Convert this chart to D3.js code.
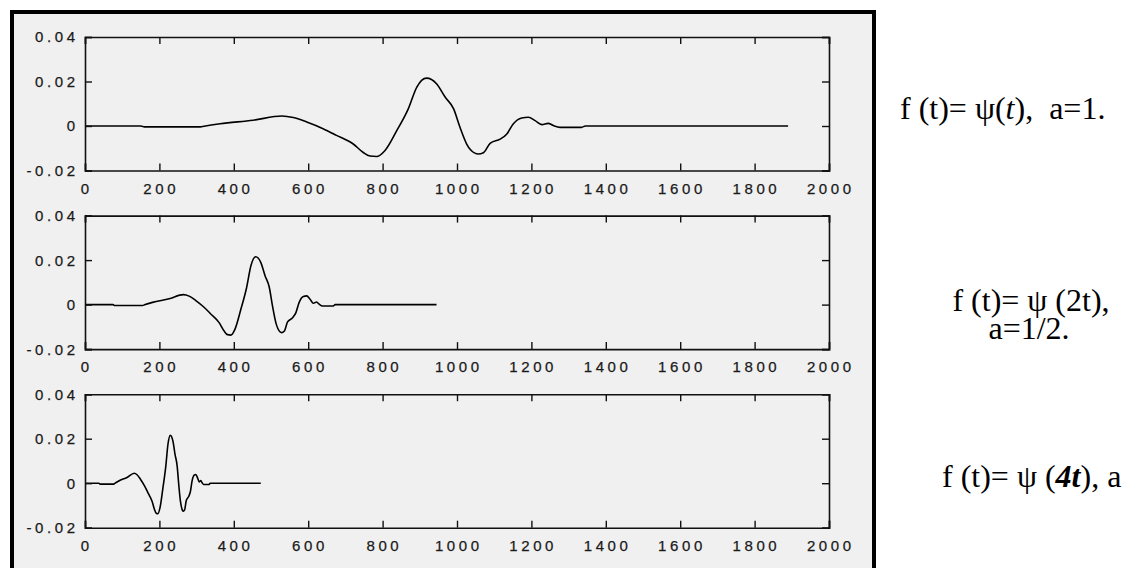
<!DOCTYPE html>
<html>
<head>
<meta charset="utf-8">
<script src="https://cdn.jsdelivr.net/npm/d3@7"></script>
<style>
  html, body { margin: 0; padding: 0; background: #ffffff; }
  svg { display: block; }
  .tick-label { font-family: "Liberation Sans", Arial, sans-serif; font-size: 15px; fill: #1a1a1a; stroke: #1a1a1a; stroke-width: 0.25px; letter-spacing: 3.6px; }
  .caption { font-family: "Liberation Serif", "Times New Roman", serif; font-size: 32px; fill: #000; white-space: pre; }
</style>
</head>
<body>
<svg id="chart" width="1128" height="568"></svg>
<script>
// Mother wavelet psi(t): sample positions and amplitudes
const psiT = [0, 150, 160, 310, 320, 363, 452, 529, 560, 596, 640, 676, 721, 748, 766, 784, 806, 838,
  869, 892, 918, 945, 968, 991, 1008, 1026, 1048, 1057, 1071, 1089, 1116, 1134, 1151, 1174, 1192,
  1210, 1228, 1245, 1259, 1277, 1335, 1345, 1890];
const psiValues = [0, 0, -0.0004, -0.0004, -0.0001, 0.001, 0.0026, 0.0045, 0.0038, 0.0018, -0.0012,
  -0.0042, -0.0081, -0.0119, -0.0135, -0.0137, -0.0111, -0.0021, 0.0077, 0.0175, 0.0215, 0.019, 0.013,
  0.0077, -0.0006, -0.0081, -0.0122, -0.0126, -0.012, -0.0078, -0.0059, -0.0036, 0.0009, 0.0036,
  0.0039, 0.0024, 0.0006, 0.0012, 0.0002, -0.0006, -0.0006, 0, 0];

// Compression factor of each panel: psi(t), psi(2t), psi(4t)
const dilations = [1, 2, 4];

const xTicks = [0, 200, 400, 600, 800, 1000, 1200, 1400, 1600, 1800, 2000];
const xTickLabels = ["0", "200", "400", "600", "800", "1000", "1200", "1400", "1600", "1800", "2000"];
const yTicks = [-0.02, 0, 0.02, 0.04];
const yTickLabels = ["-0.02", "0", "0.02", "0.04"];

const svg = d3.select("#chart");

// Gray figure window with heavy black frame
svg.append("rect")
  .attr("x", 12).attr("y", 12)
  .attr("width", 862).attr("height", 620)
  .attr("fill", "#f0f0f0")
  .attr("stroke", "#000").attr("stroke-width", 4);

const plotLeft = 85, plotRight = 829;
const panelTop0 = 37, panelStep = 178.6, panelHeight = 133.5;
const tickLen = 7, ls = 3.6;

const x = d3.scaleLinear().domain([0, 2000]).range([plotLeft, plotRight]);

dilations.forEach((a, i) => {
  const top = panelTop0 + i * panelStep;
  const bottom = top + panelHeight;
  const y = d3.scaleLinear().domain([-0.02, 0.04]).range([bottom, top]);
  const g = svg.append("g");

  // Curve
  const pts = psiT.map((t, k) => [t / a, psiValues[k]]);
  const line = d3.line().x(d => x(d[0])).y(d => y(d[1])).curve(d3.curveMonotoneX);
  g.append("path")
    .datum(pts)
    .attr("d", line)
    .attr("fill", "none")
    .attr("stroke", "#000")
    .attr("stroke-width", 1.6)
    .attr("stroke-linejoin", "round");

  // Axes: ticks inward on all four sides
  const bottomAxis = d3.axisBottom(x).tickValues(xTicks).tickSize(-tickLen).tickFormat("");
  const topAxis = d3.axisTop(x).tickValues(xTicks).tickSize(-tickLen).tickFormat("");
  const leftAxis = d3.axisLeft(y).tickValues(yTicks).tickSize(-tickLen).tickFormat("");
  const rightAxis = d3.axisRight(y).tickValues(yTicks).tickSize(-tickLen).tickFormat("");

  [[bottomAxis, `translate(0,${bottom})`], [topAxis, `translate(0,${top})`],
   [leftAxis, `translate(${plotLeft},0)`], [rightAxis, `translate(${plotRight},0)`]]
    .forEach(([ax, tr]) => {
      const ag = g.append("g").attr("transform", tr).call(ax);
      ag.select(".domain").attr("stroke", "#111").attr("stroke-width", 1.6);
      ag.selectAll(".tick line").attr("stroke", "#111").attr("stroke-width", 1.4);
    });

  // Tick labels
  g.selectAll(".xl")
    .data(xTicks)
    .enter().append("text")
    .attr("class", "tick-label")
    .attr("x", (d) => x(d) + ls / 2)
    .attr("y", bottom + 23)
    .attr("text-anchor", "middle")
    .text((d, k) => xTickLabels[k]);

  g.selectAll(".yl")
    .data(yTicks)
    .enter().append("text")
    .attr("class", "tick-label")
    .attr("x", plotLeft - 10 + ls)
    .attr("y", d => y(d))
    .attr("dy", "0.36em")
    .attr("text-anchor", "end")
    .text((d, k) => yTickLabels[k]);
});

// Captions to the right of the figure
const cap1 = svg.append("text").attr("class", "caption").attr("x", 900).attr("y", 119);
cap1.append("tspan").text("f (t)= \u03C8(");
cap1.append("tspan").attr("font-style", "italic").text("t");
cap1.append("tspan").text("),  a=1.");

const cap2 = svg.append("text").attr("class", "caption").attr("text-anchor", "middle");
cap2.append("tspan").attr("x", 1031).attr("y", 311).text("f (t)= \u03C8 (2t),");
cap2.append("tspan").attr("x", 1029).attr("y", 339).text("a=1/2.");

const cap3 = svg.append("text").attr("class", "caption").attr("x", 942).attr("y", 487);
cap3.append("tspan").text("f (t)= \u03C8 (");
cap3.append("tspan").attr("font-style", "italic").attr("font-weight", "bold").text("4t");
cap3.append("tspan").text("), a");
</script>
</body>
</html>
